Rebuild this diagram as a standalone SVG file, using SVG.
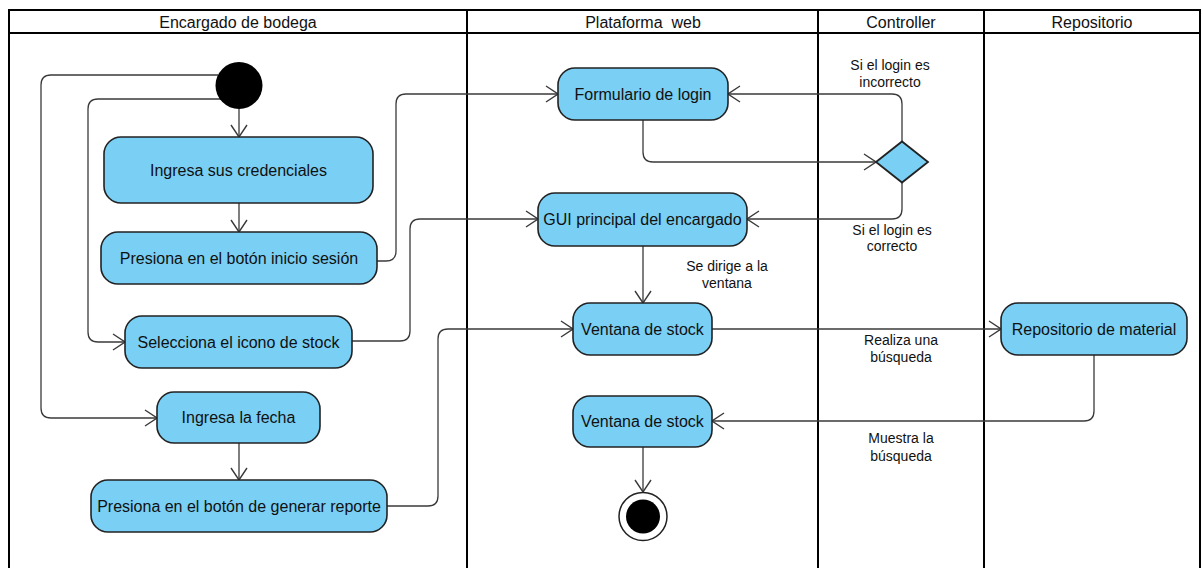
<svg xmlns="http://www.w3.org/2000/svg" width="1203" height="568" viewBox="0 0 1203 568">
  <style>
    .lane { fill: none; stroke: #000; stroke-width: 2; }
    .hdr { font-family: "Liberation Sans", Arial, sans-serif; font-size: 16px; fill: #111; text-anchor: middle; }
    .act { fill: #79CFF4; stroke: #222; stroke-width: 1.6; }
    .txt { font-family: "Liberation Sans", Arial, sans-serif; font-size: 16px; fill: #111; text-anchor: middle; }
    .lbl { font-family: "Liberation Sans", Arial, sans-serif; font-size: 14px; fill: #111; text-anchor: middle; }
    .edge { fill: none; stroke: #3a3a3a; stroke-width: 1.3; marker-end: url(#open); }
  </style>
  <defs>
    <marker id="open" viewBox="0 0 14 18" refX="13" refY="9" markerWidth="14" markerHeight="18" markerUnits="userSpaceOnUse" orient="auto">
      <path d="M1,1 L13,9 L1,17" fill="none" stroke="#3a3a3a" stroke-width="1.4"/>
    </marker>
  </defs>

  <rect width="1203" height="568" fill="#fff"/>

  <!-- swimlanes -->
  <g id="lanes">
    <path class="lane" d="M9 568 V10 H1200 V568"/>
    <path class="lane" d="M9 33 H1200"/>
    <path class="lane" d="M467 10 V568"/>
    <path class="lane" d="M818 10 V568"/>
    <path class="lane" d="M984 10 V568"/>
    <text class="hdr" x="238" y="28">Encargado de bodega</text>
    <text class="hdr" x="643" y="28" xml:space="preserve">Plataforma  web</text>
    <text class="hdr" x="901" y="28">Controller</text>
    <text class="hdr" x="1092" y="28">Repositorio</text>
  </g>

  <!-- connectors -->
  <g id="connectors">
    <path class="edge" d="M218 75 H51 Q41 75 41 85 V408 Q41 418 51 418 H157"/>
    <path class="edge" d="M221 99 H98 Q88 99 88 109 V332 Q88 342 98 342 H125"/>
    <path class="edge" d="M239 109 V137"/>
    <path class="edge" d="M239 203 V232"/>
    <path class="edge" d="M377 261 H386 Q396 261 396 251 V104 Q396 94 406 94 H558"/>
    <path class="edge" d="M352 341 H400 Q410 341 410 331 V229 Q410 219 420 219 H538"/>
    <path class="edge" d="M239 443 V480"/>
    <path class="edge" d="M387 506 H428 Q438 506 438 496 V339 Q438 329 448 329 H573"/>
    <path class="edge" d="M643 120 V152 Q643 162 653 162 H876"/>
    <path class="edge" d="M902 142 V104 Q902 94 892 94 H728"/>
    <path class="edge" d="M902 183 V209 Q902 219 892 219 H747"/>
    <path class="edge" d="M643 246 V303"/>
    <path class="edge" d="M712 329 H1001"/>
    <path class="edge" d="M1094 355 V411 Q1094 421 1084 421 H712"/>
    <path class="edge" d="M643 447 V492"/>

    <text class="lbl" x="890" y="70">Si el login es</text>
    <text class="lbl" x="890" y="87">incorrecto</text>
    <text class="lbl" x="892" y="235">Si el login es</text>
    <text class="lbl" x="892" y="251">correcto</text>
    <text class="lbl" x="727" y="271">Se dirige a la</text>
    <text class="lbl" x="727" y="288">ventana</text>
    <text class="lbl" x="901" y="345">Realiza una</text>
    <text class="lbl" x="901" y="362">búsqueda</text>
    <text class="lbl" x="901" y="443">Muestra la</text>
    <text class="lbl" x="901" y="461">búsqueda</text>
  </g>

  <!-- nodes -->
  <g id="start">
    <circle cx="239" cy="85.5" r="23.5" fill="#000"/>
  </g>
  <g id="ingresa-credenciales">
    <rect class="act" x="104" y="137" width="269" height="66" rx="17"/>
    <text class="txt" x="238.5" y="176">Ingresa sus credenciales</text>
  </g>
  <g id="presiona-inicio">
    <rect class="act" x="101" y="232" width="276" height="52" rx="17"/>
    <text class="txt" x="239" y="264">Presiona en el botón inicio sesión</text>
  </g>
  <g id="selecciona-stock">
    <rect class="act" x="125" y="316" width="227" height="52" rx="17"/>
    <text class="txt" x="238.5" y="348">Selecciona el icono de stock</text>
  </g>
  <g id="ingresa-fecha">
    <rect class="act" x="157" y="392" width="163" height="51" rx="17"/>
    <text class="txt" x="238.5" y="423">Ingresa la fecha</text>
  </g>
  <g id="generar-reporte">
    <rect class="act" x="91" y="480" width="296" height="52" rx="17"/>
    <text class="txt" x="239" y="512">Presiona en el botón de generar reporte</text>
  </g>
  <g id="formulario-login">
    <rect class="act" x="558" y="68" width="170" height="52" rx="17"/>
    <text class="txt" x="643" y="100">Formulario de login</text>
  </g>
  <g id="gui-principal">
    <rect class="act" x="538" y="193" width="209" height="53" rx="17"/>
    <text class="txt" x="642.5" y="225">GUI principal del encargado</text>
  </g>
  <g id="ventana-stock-1">
    <rect class="act" x="573" y="303" width="139" height="52" rx="17"/>
    <text class="txt" x="642.5" y="335">Ventana de stock</text>
  </g>
  <g id="ventana-stock-2">
    <rect class="act" x="573" y="396" width="139" height="51" rx="17"/>
    <text class="txt" x="642.5" y="427">Ventana de stock</text>
  </g>
  <g id="decision">
    <polygon points="876,162 902,141.5 928,162 902,182.5" fill="#79CFF4" stroke="#222" stroke-width="1.8"/>
  </g>
  <g id="repositorio-material">
    <rect class="act" x="1001" y="303" width="186" height="52" rx="17"/>
    <text class="txt" x="1094" y="335">Repositorio de material</text>
  </g>
  <g id="end">
    <circle cx="643" cy="516.5" r="24" fill="#fff" stroke="#222" stroke-width="1.5"/>
    <circle cx="643" cy="516.5" r="17" fill="#000"/>
  </g>
</svg>
